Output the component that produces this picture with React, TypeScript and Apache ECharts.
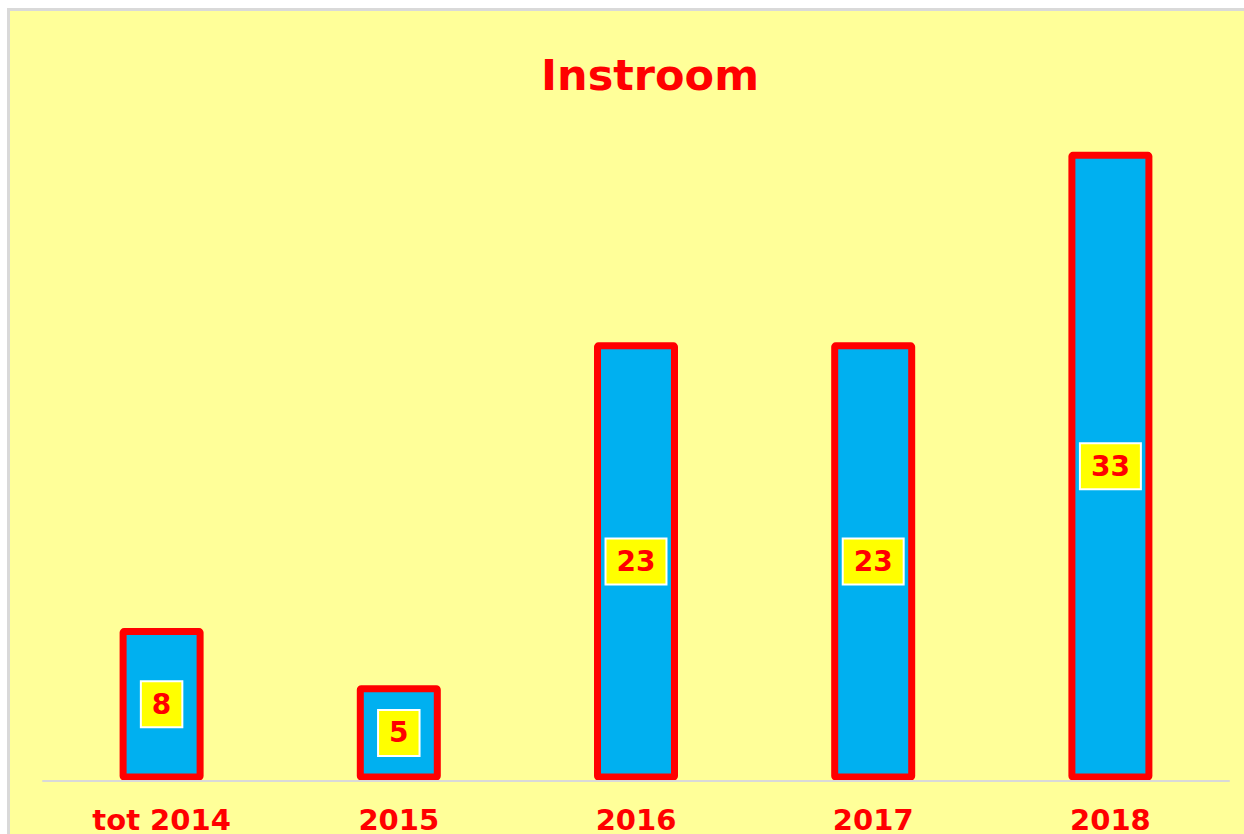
import React, { useEffect, useRef } from "react";
import * as echarts from "echarts";

const categories = ["tot 2014", "2015", "2016", "2017", "2018"];
const values = [8, 5, 23, 23, 33];
const titleText = "Instroom";

const FONT = "'DejaVu Sans', Verdana, sans-serif";

export default function App() {
  const ref = useRef<HTMLDivElement>(null);
  useEffect(() => {
    if (!ref.current) return;
    const chart = echarts.init(ref.current, undefined, { renderer: "svg" });
    chart.setOption({
      animation: false,
      backgroundColor: "#FFFF99",
      title: {
        text: titleText,
        left: "center",
        top: 37,
        textStyle: {
          color: "#FF0000",
          fontFamily: FONT,
          fontWeight: "bold",
          fontSize: 43,
          lineHeight: 43,
        },
      },
      grid: { left: 33, right: 61, top: 102.75, bottom: 70.5 },
      xAxis: {
        type: "category",
        data: categories,
        z: 5,
        axisLine: { show: true, lineStyle: { color: "#D9D9D9", width: 2 } },
        axisTick: { show: false },
        axisLabel: {
          color: "#FF0000",
          fontFamily: FONT,
          fontWeight: "bold",
          fontSize: 29,
          lineHeight: 30,
          margin: 24,
        },
      },
      yAxis: {
        type: "value",
        min: 0,
        max: 35,
        show: false,
        splitLine: { show: false },
      },
      series: [
        {
          type: "bar",
          data: values,
          barWidth: 84,
          itemStyle: {
            color: "#00B0F0",
            borderColor: "#FF0000",
            borderWidth: 7,
            borderRadius: 1,
          },
          label: {
            show: true,
            position: "inside",
            color: "#FF0000",
            fontFamily: FONT,
            fontWeight: "bold",
            fontSize: 28,
            lineHeight: 30,
            backgroundColor: "#FFFF00",
            borderColor: "#FFFFFF",
            borderWidth: 2,
            padding: [7, 10],
          },
        },
      ],
    });
    return () => chart.dispose();
  }, []);
  return (
    <div
      style={{
        position: "fixed",
        left: 0,
        top: 0,
        width: 1244,
        height: 834,
        overflow: "hidden",
        background: "#FFFFFF",
      }}
    >
      <div
        style={{
          position: "absolute",
          left: 7,
          top: 8,
          border: "3px solid #D9D9D9",
        }}
      >
        <div ref={ref} style={{ width: 1280, height: 840 }} />
      </div>
    </div>
  );
}
